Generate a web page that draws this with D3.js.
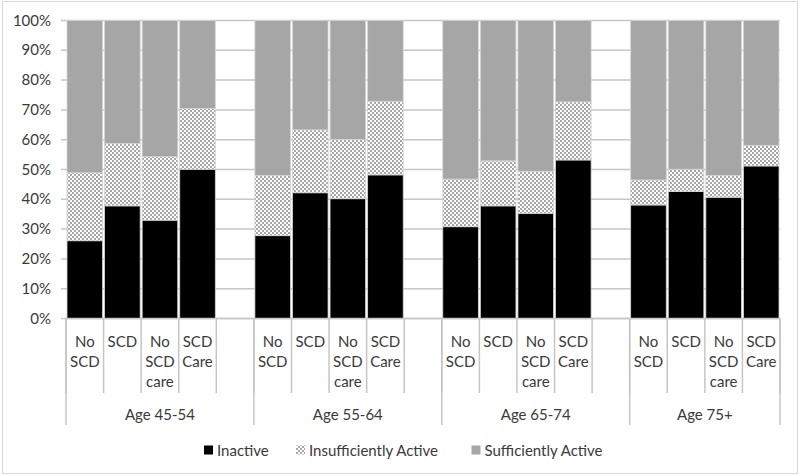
<!DOCTYPE html>
<html><head><meta charset="utf-8">
<script src="https://cdn.jsdelivr.net/npm/d3@7"></script>
<style>body{margin:0;background:#fff}svg{display:block}text{font-family:Lato,"Open Sans",sans-serif;fill:#3a3a3a}</style>
</head><body><svg id="c" width="800" height="476"></svg>
<script>
const groups = ["Age 45-54","Age 55-64","Age 65-74","Age 75+"];
const subcats = ["No\nSCD","SCD","No\nSCD\ncare","SCD\nCare"];
const seriesNames = ["Inactive","Insufficiently Active","Sufficiently Active"];
const inactive =     [26.1,37.8,33.0,50.1, 27.8,42.2,40.2,48.2, 30.8,37.8,35.3,53.2, 38.1,42.6,40.7,51.2];
const insufficient = [22.8,20.9,21.3,20.4, 20.2,21.1,19.9,24.7, 16.0,15.1,14.1,19.5, 8.4,7.5,7.3,6.9];
const sufficient =   [51.1,41.3,45.7,29.5, 52.0,36.7,39.9,27.1, 53.2,47.1,50.6,27.3, 53.5,49.9,52.0,41.9];
const yTicks = [0,10,20,30,40,50,60,70,80,90,100];

const svg = d3.select("#c");
const defs = svg.append("defs");
const pat = defs.append("pattern").attr("id","dots").attr("patternUnits","userSpaceOnUse").attr("width",4).attr("height",4);
pat.append("rect").attr("width",4).attr("height",4).attr("fill","#fff");
pat.append("circle").attr("cx",1).attr("cy",1).attr("r",0.65).attr("fill","#000");
pat.append("circle").attr("cx",3).attr("cy",3).attr("r",0.65).attr("fill","#000");
const fills = ["#000","url(#dots)","#a6a6a6"];

// outer border
svg.append("rect").attr("x",2.5).attr("y",1.5).attr("width",795).attr("height",472).attr("fill","none").attr("stroke","#d9d9d9");

// slots: 4 groups with blank slot between
const slots = [];
groups.forEach((g,gi)=>{
  subcats.forEach((s,si)=>slots.push({key:g+"|"+si,group:gi,label:s,idx:gi*4+si}));
  if(gi<groups.length-1) slots.push({key:g+"|blank",group:gi,blank:true});
});
const x = d3.scaleBand().domain(slots.map(d=>d.key)).range([66,780]).padding(0);
const y = d3.scaleLinear().domain([0,100]).range([318.5,20.5]);

// gridlines + ticks
svg.append("g").selectAll("line").data(yTicks).join("line")
  .attr("x1",61).attr("x2",780).attr("y1",d=>y(d)).attr("y2",d=>y(d))
  .attr("stroke","#c6c6c6").attr("stroke-width",1.5);
svg.append("g").selectAll("text").data(yTicks).join("text")
  .attr("x",51).attr("y",d=>y(d)+5).attr("text-anchor","end").attr("font-size",15).text(d=>d+"%");

// stacked bars
const rows = slots.filter(s=>!s.blank).map(s=>({key:s.key,Inactive:inactive[s.idx],"Insufficiently Active":insufficient[s.idx],"Sufficiently Active":sufficient[s.idx]}));
const stack = d3.stack().keys(seriesNames)(rows);
stack.forEach((ser,i)=>{
  svg.append("g").selectAll("rect").data(ser).join("rect")
    .attr("x",d=>x(d.data.key)+1).attr("width",x.bandwidth()-2)
    .attr("y",d=>y(d[1])).attr("height",d=>y(d[0])-y(d[1]))
    .attr("fill",fills[i]).attr("stroke","#d4d4d4").attr("stroke-width",0.8);
});

// x axis line
svg.append("line").attr("x1",66).attr("x2",780).attr("y1",318.5).attr("y2",318.5).attr("stroke","#c6c6c6").attr("stroke-width",1.5);
// slot separators
const bounds = slots.map(s=>x(s.key)).concat([780]);
svg.append("g").selectAll("line").data(bounds).join("line")
  .attr("x1",d=>d).attr("x2",d=>d).attr("y1",318.5).attr("y2",393).attr("stroke","#c6c6c6").attr("stroke-width",1.5);
// group separators
const gb = groups.map((g,gi)=>x(g+"|0")).concat([780]);
svg.append("g").selectAll("line").data(gb).join("line")
  .attr("x1",d=>d).attr("x2",d=>d).attr("y1",318.5).attr("y2",425).attr("stroke","#c6c6c6").attr("stroke-width",1.5);

// category labels
slots.filter(s=>!s.blank).forEach(s=>{
  const t = svg.append("text").attr("text-anchor","middle").attr("font-size",15);
  s.label.split("\n").forEach((ln,li)=>{
    t.append("tspan").attr("x",x(s.key)+x.bandwidth()/2).attr("y",347+li*20).text(ln);
  });
});
// group labels
groups.forEach((g,gi)=>{
  svg.append("text").attr("x",(gb[gi]+gb[gi+1])/2).attr("y",420).attr("text-anchor","middle").attr("font-size",15).text(g);
});

// legend
const legX = [204,296,471.5];
seriesNames.forEach((n,i)=>{
  svg.append("rect").attr("x",legX[i]).attr("y",445.5).attr("width",9).attr("height",9).attr("fill",fills[i]);
  svg.append("text").attr("x",legX[i]+13).attr("y",455.5).attr("font-size",15).text(n);
});
</script></body></html>
